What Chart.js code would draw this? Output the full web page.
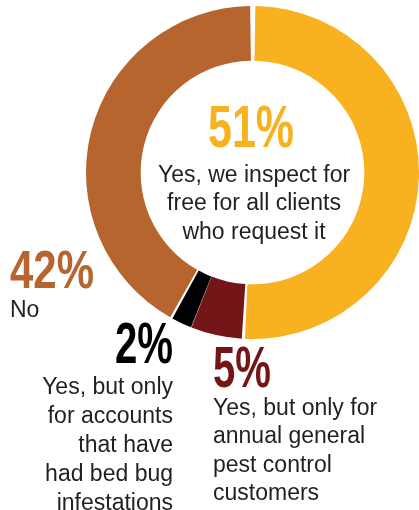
<!DOCTYPE html>
<html>
<head>
<meta charset="utf-8">
<script src="https://cdn.jsdelivr.net/npm/chart.js@4.4.0/dist/chart.umd.min.js"></script>
<style>
  html, body { margin: 0; padding: 0; background: #fff; overflow: hidden; }
  #wrap { width: 419px; height: 510px; position: relative; }
</style>
</head>
<body>
<div id="wrap"><canvas id="donut" width="419" height="510"></canvas></div>
<script>
// answers, clockwise from 12 o'clock
const categories = [
  "Yes, we inspect for free for all clients who request it",
  "Yes, but only for annual general pest control customers",
  "Yes, but only for accounts that have had bed bug infestations",
  "No"
];
const values = [51, 5, 2, 42];
const labelLines = [
  ["Yes, we inspect for", "free for all clients", "who request it"],
  ["Yes, but only for", "annual general", "pest control", "customers"],
  ["Yes, but only", "for accounts", "that have", "had bed bug", "infestations"],
  ["No"]
];
const sliceColors = ["#f8b21f", "#741518", "#000000", "#b6652e"];

const textColor = "#231f20";
const bodyFont = '23px "Liberation Sans", Arial, sans-serif';

// where each label block goes (big number baseline + the text below it)
const spots = [
  { x: 251, y: 147, size: 60, w: 86, align: "center", tx: 254, ty: 182, gap: 28.3 },
  { x: 213, y: 387, size: 58, w: 58, align: "left", tx: 213, ty: 415, gap: 28.4 },
  { x: 173, y: 363, size: 57, w: 58, align: "right", tx: 173, ty: 394, gap: 29 },
  { x: 10, y: 288, size: 54, w: 84, align: "left", tx: 10, ty: 317, gap: 28 }
];

const labelPlugin = {
  id: "labels",
  afterDraw(chart) {
    const ctx = chart.ctx;
    ctx.save();
    ctx.textBaseline = "alphabetic";
    spots.forEach((s, i) => {
      ctx.textAlign = s.align;
      ctx.fillStyle = sliceColors[i];
      ctx.font = 'bold ' + s.size + 'px "Liberation Sans Narrow", "Liberation Sans", Arial, sans-serif';
      ctx.fillText(values[i] + "%", s.x, s.y, s.w);
      ctx.fillStyle = textColor;
      ctx.font = bodyFont;
      labelLines[i].forEach((line, j) => {
        ctx.fillText(line, s.tx, s.ty + j * s.gap);
      });
    });
    ctx.restore();
  }
};

const ctx = document.getElementById("donut").getContext("2d");
new Chart(ctx, {
  type: "doughnut",
  data: {
    labels: categories,
    datasets: [{
      data: values,
      backgroundColor: sliceColors,
      borderWidth: 0,
      spacing: 3
    }]
  },
  options: {
    responsive: false,
    animation: false,
    devicePixelRatio: 1,
    events: [],
    radius: 165,
    cutout: 109,
    layout: { padding: { left: 88, right: 2, top: 8, bottom: 173 } },
    plugins: {
      legend: { display: false },
      tooltip: { enabled: false }
    }
  },
  plugins: [labelPlugin]
});
</script>
</body>
</html>
